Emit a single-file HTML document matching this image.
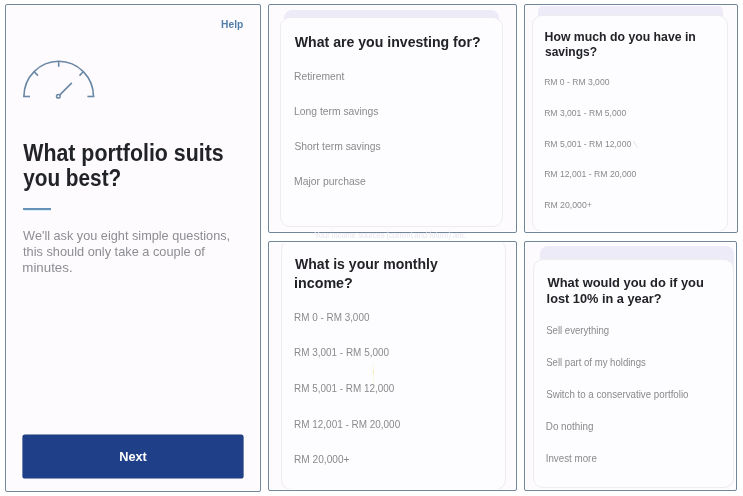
<!DOCTYPE html>
<html><head><meta charset="utf-8"><style>
*{margin:0;padding:0}
html,body{width:743px;height:496px;overflow:hidden;background:#fff}
body{position:relative;font-family:"Liberation Sans",sans-serif}
.p{position:absolute;border:1px solid #71869a;border-radius:2px;background:#fdfbfe;box-shadow:inset 0 0 0 1px #fff}
.clip{position:absolute;overflow:hidden}
</style></head><body>
<div class="p" style="left:5px;top:4px;width:254px;height:486px;"></div><div class="p" style="left:268px;top:4px;width:247px;height:227px;"></div><div class="p" style="left:524px;top:4px;width:212px;height:227px;"></div><div class="p" style="left:268px;top:241px;width:247px;height:248px;"></div><div class="p" style="left:524px;top:241px;width:211px;height:248px;"></div><div class="clip" style="left:270px;top:6px;width:245px;height:225px"><div style="position:absolute;left:14px;top:3.8px;width:215px;height:20px;background:#eeebf8;border-radius:8px 8px 0 0"></div><div style="position:absolute;left:10.2px;top:11px;width:223.3px;height:209.6px;background:#fdfcfe;border:1px solid #eeebf1;border-radius:10px;box-sizing:border-box"></div></div><div class="clip" style="left:526px;top:6px;width:210px;height:225px"><div style="position:absolute;left:11.5px;top:-2px;width:185.5px;height:20px;background:#eeebf8;border-radius:8px 8px 0 0"></div><div style="position:absolute;left:6px;top:9px;width:195.5px;height:216.5px;background:#fdfcfe;border:1px solid #eeebf1;border-radius:10px;box-sizing:border-box"></div></div><div class="clip" style="left:270px;top:243px;width:245px;height:246px"><div style="position:absolute;left:10.5px;top:-4px;width:225px;height:251px;background:#fdfcfe;border:1px solid #eeebf1;border-radius:10px;box-sizing:border-box"></div></div><div class="clip" style="left:526px;top:243px;width:209px;height:246px"><div style="position:absolute;left:14px;top:3.3px;width:194px;height:24px;background:#eeebf8;border-radius:8px 8px 0 0"></div><div style="position:absolute;left:7.3px;top:15.6px;width:201.2px;height:229.6px;background:#fdfcfe;border:1px solid #eeebf1;border-radius:10px;box-sizing:border-box"></div></div><div style="position:absolute;left:23px;top:208px;width:28px;height:2px;background:#6590b8"></div><div style="position:absolute;left:24px;top:210px;width:27px;height:1px;background:#d6eff8"></div><div style="position:absolute;left:23px;top:435px;width:220px;height:43px;background:#1f3f89;border-radius:2px;box-shadow:0 0 0 0.6px #1a3572"></div>
<svg width="743" height="496" style="position:absolute;left:0;top:0;will-change:transform;filter:blur(0.35px)"><g fill="none" stroke="#6a87a5" stroke-width="1.6">
<path d="M23.9 96.6 A34.8 35.4 0 0 1 93.5 96.6"/>
<path d="M23.1 96.5 H30"/><path d="M87.4 96.5 H94.3"/>
<path d="M58.7 61.5 V66.8"/>
<path d="M34.2 71.8 L37.9 75.6"/><path d="M83.2 71.8 L79.5 75.6"/>
<path d="M59.8 94.9 L71.8 82.9"/>
<circle cx="58.3" cy="96.3" r="1.8" stroke-width="1.5"/>
</g><path d="M373.4 363 V392" stroke="#f6eec0" stroke-width="0.8" fill="none" opacity="0.45"/><path d="M373.4 370 V375" stroke="#efe08a" stroke-width="1" fill="none" opacity="0.5"/><path d="M633.5 141 L637.5 147.5" stroke="#d8d8dc" stroke-width="0.7" fill="none"/><text x="314.5" y="237.5" font-family="Liberation Sans" font-size="9.6" fill="#e6e6ee" textLength="151.5" lengthAdjust="spacingAndGlyphs">Your income sources (current and future) are:</text><text x="221.11" y="28" font-family="Liberation Sans" font-size="10.6" font-weight="bold" fill="#4f7eab" textLength="22.21" lengthAdjust="spacingAndGlyphs">Help</text><text x="23.28" y="161" font-family="Liberation Sans" font-size="23.0" font-weight="bold" fill="#222327" textLength="200.40" lengthAdjust="spacingAndGlyphs">What portfolio suits</text><text x="23.14" y="186" font-family="Liberation Sans" font-size="23.0" font-weight="bold" fill="#222327" textLength="98.16" lengthAdjust="spacingAndGlyphs">you best?</text><text x="23.14" y="240" font-family="Liberation Sans" font-size="12.7" font-weight="normal" fill="#8d8d91" textLength="207.00" lengthAdjust="spacingAndGlyphs">We&#39;ll ask you eight simple questions,</text><text x="23.01" y="256" font-family="Liberation Sans" font-size="12.7" font-weight="normal" fill="#8d8d91" textLength="181.82" lengthAdjust="spacingAndGlyphs">this should only take a couple of</text><text x="22.32" y="272" font-family="Liberation Sans" font-size="12.7" font-weight="normal" fill="#8d8d91" textLength="50.30" lengthAdjust="spacingAndGlyphs">minutes.</text><text x="119.25" y="461" font-family="Liberation Sans" font-size="12.8" font-weight="bold" fill="#ffffff" textLength="27.61" lengthAdjust="spacingAndGlyphs">Next</text><text x="294.79" y="47" font-family="Liberation Sans" font-size="15.3" font-weight="bold" fill="#222327" textLength="185.73" lengthAdjust="spacingAndGlyphs">What are you investing for?</text><text x="294.06" y="80" font-family="Liberation Sans" font-size="10.3" font-weight="normal" fill="#8a8a8e" textLength="50.22" lengthAdjust="spacingAndGlyphs">Retirement</text><text x="294.05" y="115" font-family="Liberation Sans" font-size="10.3" font-weight="normal" fill="#8a8a8e" textLength="84.42" lengthAdjust="spacingAndGlyphs">Long term savings</text><text x="294.43" y="150" font-family="Liberation Sans" font-size="10.3" font-weight="normal" fill="#8a8a8e" textLength="86.34" lengthAdjust="spacingAndGlyphs">Short term savings</text><text x="294.05" y="185" font-family="Liberation Sans" font-size="10.3" font-weight="normal" fill="#8a8a8e" textLength="71.61" lengthAdjust="spacingAndGlyphs">Major purchase</text><text x="544.58" y="41" font-family="Liberation Sans" font-size="12.8" font-weight="bold" fill="#222327" textLength="151.28" lengthAdjust="spacingAndGlyphs">How much do you have in</text><text x="544.98" y="56" font-family="Liberation Sans" font-size="12.8" font-weight="bold" fill="#222327" textLength="52.12" lengthAdjust="spacingAndGlyphs">savings?</text><text x="544.15" y="85" font-family="Liberation Sans" font-size="9.8" font-weight="normal" fill="#8a8a8e" textLength="65.29" lengthAdjust="spacingAndGlyphs">RM 0 - RM 3,000</text><text x="544.14" y="116" font-family="Liberation Sans" font-size="9.8" font-weight="normal" fill="#8a8a8e" textLength="82.19" lengthAdjust="spacingAndGlyphs">RM 3,001 - RM 5,000</text><text x="544.14" y="147" font-family="Liberation Sans" font-size="9.8" font-weight="normal" fill="#8a8a8e" textLength="87.09" lengthAdjust="spacingAndGlyphs">RM 5,001 - RM 12,000</text><text x="544.14" y="177" font-family="Liberation Sans" font-size="9.8" font-weight="normal" fill="#8a8a8e" textLength="92.20" lengthAdjust="spacingAndGlyphs">RM 12,001 - RM 20,000</text><text x="544.14" y="208" font-family="Liberation Sans" font-size="9.8" font-weight="normal" fill="#8a8a8e" textLength="47.69" lengthAdjust="spacingAndGlyphs">RM 20,000+</text><text x="294.99" y="269" font-family="Liberation Sans" font-size="14.7" font-weight="bold" fill="#222327" textLength="142.79" lengthAdjust="spacingAndGlyphs">What is your monthly</text><text x="294.00" y="288" font-family="Liberation Sans" font-size="14.7" font-weight="bold" fill="#222327" textLength="58.82" lengthAdjust="spacingAndGlyphs">income?</text><text x="294.09" y="321" font-family="Liberation Sans" font-size="10.4" font-weight="normal" fill="#8a8a8e" textLength="75.30" lengthAdjust="spacingAndGlyphs">RM 0 - RM 3,000</text><text x="294.09" y="356" font-family="Liberation Sans" font-size="10.4" font-weight="normal" fill="#8a8a8e" textLength="94.90" lengthAdjust="spacingAndGlyphs">RM 3,001 - RM 5,000</text><text x="294.09" y="392" font-family="Liberation Sans" font-size="10.4" font-weight="normal" fill="#8a8a8e" textLength="100.20" lengthAdjust="spacingAndGlyphs">RM 5,001 - RM 12,000</text><text x="294.08" y="428" font-family="Liberation Sans" font-size="10.4" font-weight="normal" fill="#8a8a8e" textLength="106.10" lengthAdjust="spacingAndGlyphs">RM 12,001 - RM 20,000</text><text x="294.07" y="463" font-family="Liberation Sans" font-size="10.4" font-weight="normal" fill="#8a8a8e" textLength="55.43" lengthAdjust="spacingAndGlyphs">RM 20,000+</text><text x="547.49" y="287" font-family="Liberation Sans" font-size="13.6" font-weight="bold" fill="#222327" textLength="156.36" lengthAdjust="spacingAndGlyphs">What would you do if you</text><text x="546.61" y="303" font-family="Liberation Sans" font-size="13.6" font-weight="bold" fill="#222327" textLength="114.93" lengthAdjust="spacingAndGlyphs">lost 10% in a year?</text><text x="546.16" y="334" font-family="Liberation Sans" font-size="10.0" font-weight="normal" fill="#8a8a8e" textLength="62.95" lengthAdjust="spacingAndGlyphs">Sell everything</text><text x="546.16" y="366" font-family="Liberation Sans" font-size="10.0" font-weight="normal" fill="#8a8a8e" textLength="99.68" lengthAdjust="spacingAndGlyphs">Sell part of my holdings</text><text x="546.16" y="398" font-family="Liberation Sans" font-size="10.0" font-weight="normal" fill="#8a8a8e" textLength="142.35" lengthAdjust="spacingAndGlyphs">Switch to a conservative portfolio</text><text x="545.79" y="430" font-family="Liberation Sans" font-size="10.0" font-weight="normal" fill="#8a8a8e" textLength="47.64" lengthAdjust="spacingAndGlyphs">Do nothing</text><text x="545.70" y="462" font-family="Liberation Sans" font-size="10.0" font-weight="normal" fill="#8a8a8e" textLength="51.14" lengthAdjust="spacingAndGlyphs">Invest more</text></svg>
</body></html>
